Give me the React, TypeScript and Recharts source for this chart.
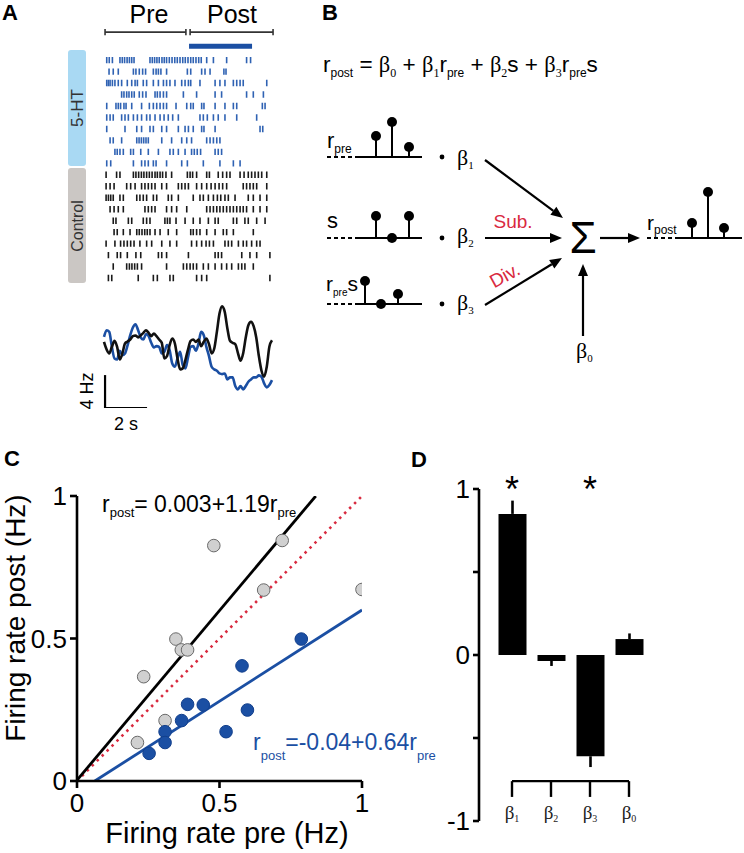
import React from 'react';
import {
  BarChart,
  Bar,
  ComposedChart,
  ScatterChart,
  Scatter,
  Line,
  XAxis,
  YAxis,
  ReferenceLine,
  ReferenceDot,
  ErrorBar,
} from 'recharts';

const FONT = '"Liberation Sans", Arial, Helvetica, sans-serif';
const SERIF = '"Liberation Serif", "Times New Roman", serif';
const BLUE = '#1b4fa3';
const RASTER_BLUE = '#2f62b3';
const RED = '#d92a3f';

// ---- panel A: spike times (s), one array per trial
const serotoninSpikes: number[][] = [
  [0.13, 0.25, 0.4, 0.76, 0.87, 0.98, 1.1, 1.21, 1.32, 1.43, 2.19, 2.3, 2.41, 2.52, 2.63, 2.76, 2.87, 2.98, 3.11, 3.24, 3.37, 3.49, 3.62, 3.75, 3.87, 4.0, 4.13, 4.25, 4.38, 4.51, 4.63, 4.89, 5.21, 5.84, 6.79, 6.98],
  [0.24, 0.44, 0.68, 1.4, 1.52, 1.68, 1.84, 1.98, 2.35, 2.48, 2.59, 2.71, 2.98, 3.97, 4.13, 4.65, 4.81, 5.05, 5.71, 5.81],
  [0.13, 0.21, 0.29, 0.4, 0.52, 0.68, 0.84, 1.11, 1.32, 1.48, 1.59, 1.87, 2.03, 2.35, 2.59, 2.83, 2.98, 3.14, 3.38, 3.7, 3.86, 4.02, 4.13, 4.57, 5.29, 5.52, 5.76, 6.16, 6.32, 6.48, 6.63, 7.75],
  [0.84, 0.95, 1.08, 1.19, 1.32, 1.44, 1.68, 1.84, 2.0, 2.43, 2.54, 2.67, 2.83, 2.98, 3.78, 4.41, 5.29, 5.6, 6.79, 7.11, 7.59],
  [0.13, 0.57, 0.68, 0.79, 0.95, 1.05, 1.32, 1.79, 2.16, 2.35, 2.51, 2.67, 2.83, 2.98, 3.43, 3.94, 4.13, 4.25, 4.65, 4.76, 5.29, 5.76, 6.16, 6.32, 7.54, 7.67],
  [0.13, 0.29, 0.44, 0.84, 1.0, 1.16, 1.4, 1.59, 1.79, 2.03, 2.19, 2.43, 2.67, 2.86, 3.06, 3.27, 3.54, 4.57, 4.73, 4.92, 5.21, 5.44, 5.76, 6.32, 7.27],
  [0.13, 1.0, 1.56, 1.79, 2.19, 2.35, 2.75, 2.98, 3.54, 3.86, 4.02, 4.25, 4.65, 4.76, 5.29, 7.43, 7.56],
  [0.29, 0.44, 0.84, 1.56, 1.67, 1.78, 1.89, 2.0, 2.11, 2.75, 3.22, 3.7, 3.94, 4.17, 4.89, 5.05, 5.21, 5.37, 5.52],
  [0.52, 0.63, 0.76, 0.92, 1.27, 1.4, 1.75, 2.11, 2.59, 3.14, 3.3, 3.54, 3.86, 4.17, 4.3, 4.44, 4.6, 5.29, 5.44, 5.6],
  [0.13, 0.32, 1.4, 1.79, 1.95, 2.11, 2.35, 2.48, 2.98, 3.7, 3.97, 4.73, 5.52, 6.16, 6.48],
];

const controlSpikes: number[][] = [
  [0.1, 0.6, 0.76, 1.4, 1.52, 1.65, 1.78, 1.9, 2.03, 2.16, 2.29, 2.43, 2.54, 2.67, 2.79, 2.95, 3.22, 3.97, 4.1, 4.22, 4.41, 4.89, 5.02, 5.44, 5.65, 5.84, 6.0, 6.48, 6.67, 6.87, 7.03, 7.19, 7.35, 7.51, 7.75],
  [0.1, 0.29, 0.48, 1.08, 1.27, 1.48, 1.79, 1.95, 2.11, 2.27, 2.43, 2.75, 2.98, 3.54, 3.7, 3.86, 4.02, 4.41, 4.65, 4.89, 5.1, 5.29, 5.48, 5.65, 5.84, 6.63, 6.79, 6.95, 7.11, 7.27, 7.75],
  [0.1, 0.21, 0.32, 0.44, 0.76, 0.92, 1.56, 1.71, 1.87, 2.03, 2.35, 2.51, 3.06, 3.22, 3.54, 4.25, 4.57, 4.73, 4.97, 5.21, 5.4, 5.56, 5.76, 5.92, 6.24, 6.87, 7.11, 7.43, 7.75],
  [0.29, 0.48, 0.68, 0.92, 1.95, 2.11, 2.27, 2.43, 2.98, 3.22, 3.46, 3.94, 4.89, 5.05, 5.21, 5.37, 5.52, 5.68, 5.84, 6.0, 6.16, 6.32, 6.48, 6.63, 6.79, 7.11, 7.43, 7.75],
  [0.44, 0.57, 1.16, 1.32, 1.87, 2.03, 2.19, 2.9, 3.02, 3.14, 3.43, 3.86, 4.25, 4.57, 4.97, 5.29, 5.44, 6.16, 6.32, 6.71, 6.87, 7.27, 7.67],
  [0.48, 0.63, 0.92, 1.24, 1.56, 1.68, 1.81, 1.94, 2.06, 2.19, 2.43, 2.67, 3.06, 3.46, 4.13, 4.25, 4.41, 4.57, 4.89, 5.29, 5.68, 5.84, 6.16, 7.11],
  [0.1, 0.52, 0.79, 0.95, 1.11, 1.27, 1.43, 1.71, 2.03, 2.27, 2.75, 3.14, 3.46, 4.17, 4.41, 4.65, 4.86, 5.02, 5.21, 5.76, 5.92, 6.08, 6.4, 6.63, 6.79, 7.03, 7.27, 7.43],
  [0.21, 0.63, 0.79, 1.11, 1.52, 1.75, 2.59, 2.75, 2.98, 4.02, 5.29, 5.44, 5.6, 6.56, 6.95, 7.27, 7.9],
  [0.44, 1.08, 1.21, 1.33, 1.46, 1.59, 1.79, 2.98, 3.78, 3.94, 4.1, 4.25, 4.41, 4.73, 4.97, 5.29, 5.6, 5.84, 6.08, 6.4, 6.56, 6.71, 7.11],
  [0.21, 0.37, 1.63, 2.35, 2.54, 3.14, 3.3, 4.41, 4.65, 4.89, 7.9],
];

// smoothed firing rate (Hz) sampled every 0.125 s
const traceTime = [0, 0.125, 0.25, 0.375, 0.5, 0.625, 0.75, 0.875, 1, 1.125, 1.25, 1.375, 1.5, 1.625, 1.75, 1.875, 2, 2.125, 2.25, 2.375, 2.5, 2.625, 2.75, 2.875, 3, 3.125, 3.25, 3.375, 3.5, 3.625, 3.75, 3.875, 4, 4.125, 4.25, 4.375, 4.5, 4.625, 4.75, 4.875, 5, 5.125, 5.25, 5.375, 5.5, 5.625, 5.75, 5.875, 6, 6.125, 6.25, 6.375, 6.5, 6.625, 6.75, 6.875, 7, 7.125, 7.25, 7.375, 7.5, 7.625, 7.75, 7.875, 8];
const serotoninRate = [8.65, 9.45, 9.25, 7.43, 6.02, 5.9, 6.95, 6.42, 6.63, 7.64, 8.85, 9.78, 10.18, 9.45, 8.57, 8.32, 8.97, 8.73, 7.92, 7.35, 7.52, 7.43, 6.63, 6.83, 7.64, 7.03, 5.41, 5.01, 6.02, 6.83, 5.21, 4.81, 6.14, 7.43, 7.52, 6.95, 7.84, 9.25, 8.85, 7.43, 6.3, 5.01, 4.69, 4.53, 4.2, 4.12, 4.2, 3.47, 3.72, 3.72, 2.67, 2.26, 2.67, 2.26, 2.67, 3.19, 3.47, 3.72, 3.72, 3.96, 3.8, 2.99, 2.51, 2.79, 3.39];
const controlRate = [8.04, 7.11, 6.63, 7.43, 8.16, 7.43, 5.9, 6.63, 7.84, 8.08, 8.32, 8.73, 8.81, 8.57, 8.85, 9.13, 9.45, 9.13, 8.73, 9.05, 8.73, 8.32, 7.92, 6.02, 6.3, 7.64, 8.44, 7.84, 6.02, 4.69, 4.81, 5.82, 7.11, 8.16, 8.32, 8.04, 8.32, 7.52, 8.04, 8.44, 7.76, 6.63, 7.23, 9.25, 11.47, 12.36, 11.68, 9.66, 8.16, 7.92, 7.76, 6.71, 5.74, 6.63, 8.57, 10.06, 10.46, 9.94, 8.57, 6.3, 4.53, 3.8, 5.01, 7.43, 8.24];

// ---- panel B: schematic signals (diagram px), stems x / heights
const preStemX = [376, 392, 409];
const preStemH = [21, 35, 10];
const sStemX = [376, 392, 409];
const sStemH = [22, 0, 22];
const preSStemX = [365, 381, 398];
const preSStemH = [23, 0, 10];
const postStemX = [692, 708, 724];
const postStemH = [15, 46, 10];

// ---- panel C: firing rates pre vs post (Hz)
const controlPre = [0.48, 0.72, 0.655, 1.0, 0.347, 0.366, 0.388, 0.234, 0.309, 0.212];
const controlPost = [0.826, 0.844, 0.67, 0.672, 0.498, 0.46, 0.46, 0.366, 0.212, 0.135];
const serotoninPre = [0.787, 0.579, 0.388, 0.443, 0.598, 0.367, 0.309, 0.523, 0.309, 0.253];
const serotoninPost = [0.498, 0.404, 0.269, 0.267, 0.249, 0.212, 0.173, 0.173, 0.135, 0.097];
const controlFit = { b0: 0.003, b1: 1.19 };
const serotoninFit = { b0: -0.04, b1: 0.64 };

// ---- panel D: regression coefficients
const coefNames = ['β1', 'β2', 'β3', 'β0'];
const coefValues = [0.85, -0.036, -0.61, 0.096];
const coefErrLow = [0, 0.03, 0.065, 0];
const coefErrHigh = [0.08, 0, 0, 0.034];
const coefSignificant = [true, false, true, false];

const rasterSero = serotoninSpikes.flatMap((row, i) => row.map((t) => ({ t, row: i + 1 })));
const rasterCtrl = controlSpikes.flatMap((row, i) => row.map((t) => ({ t, row: i + 11 })));
const traceData = traceTime.map((t, i) => ({ t, sero: serotoninRate[i], ctrl: controlRate[i] }));

const ctrlPoints = controlPre.map((x, i) => ({ x, y: controlPost[i] }));
const seroPoints = serotoninPre.map((x, i) => ({ x, y: serotoninPost[i] }));
const ctrlLine = [
  { x: 0, y: controlFit.b0 },
  { x: (1 - controlFit.b0) / controlFit.b1, y: 1 },
];
const seroLine = [
  { x: -serotoninFit.b0 / serotoninFit.b1, y: 0 },
  { x: 1, y: serotoninFit.b0 + serotoninFit.b1 },
];
const unityLine = [
  { x: 0, y: 0 },
  { x: 1, y: 1 },
];
const coefData = coefNames.map((name, i) => ({
  name,
  value: coefValues[i],
  err: [coefErrLow[i], coefErrHigh[i]],
}));

const stemRows = [
  { base: 157, xs: preStemX, hs: preStemH, x0: 327 },
  { base: 238, xs: sStemX, hs: sStemH, x0: 327 },
  { base: 304, xs: preSStemX, hs: preSStemH, x0: 327 },
  { base: 238, xs: postStemX, hs: postStemH, x0: 647 },
];
const stemDots = stemRows.flatMap((r) => r.xs.map((x, i) => ({ x, y: r.base - r.hs[i] })));
const multDots = [157, 238, 304].map((y) => ({ x: 442, y }));
const arrows = [
  { from: [485, 160], to: [563, 218] },
  { from: [485, 238], to: [562, 238] },
  { from: [485, 305], to: [562, 258] },
  { from: [600, 238], to: [640, 238] },
  { from: [583, 336], to: [583, 264] },
];

const spike = (color: string) => (p: any) => (
  <line x1={p.cx} x2={p.cx} y1={p.cy - 3.2} y2={p.cy + 3.2} stroke={color} strokeWidth={1.6} />
);
const dot = (r: number) => (p: any) => <circle cx={p.cx} cy={p.cy} r={r} fill="#000" />;

const Arrow = (p: any) => {
  const { x1, y1, x2, y2 } = p;
  const a = Math.atan2(y2 - y1, x2 - x1);
  const L = 12;
  const W = 5;
  const bx = x2 - L * Math.cos(a);
  const by = y2 - L * Math.sin(a);
  const nx = -Math.sin(a) * W;
  const ny = Math.cos(a) * W;
  return (
    <g>
      <line x1={x1} y1={y1} x2={bx} y2={by} stroke="#000" strokeWidth={2.2} />
      <polygon points={`${x2},${y2} ${bx + nx},${by + ny} ${bx - nx},${by - ny}`} fill="#000" />
    </g>
  );
};

type Part = [string, boolean, string?];
function Rich({ x, y, size, sub, dy, parts, fill = '#000', anchor = 'start' }: any) {
  let cur = 0;
  return (
    <text x={x} y={y} fontSize={size} fill={fill} textAnchor={anchor} style={{ whiteSpace: 'pre' }}>
      {(parts as Part[]).map(([t, isSub, fam], i) => {
        const target = isSub ? dy : 0;
        const d = target - cur;
        cur = target;
        return (
          <tspan key={i} dy={d || undefined} fontSize={isSub ? sub : size} fontFamily={fam}>
            {t}
          </tspan>
        );
      })}
    </text>
  );
}

const abs = (left: number, top: number): React.CSSProperties => ({ position: 'absolute', left, top });

export default function App() {
  return (
    <div style={{ position: 'absolute', left: 0, top: 0, width: 744, height: 853, background: '#fff', fontFamily: FONT }}>
      {/* A: condition tags */}
      <div style={{ ...abs(68, 50), width: 18, height: 116, borderRadius: 3, background: '#a9d9f3' }} />
      <div style={{ ...abs(68, 168), width: 18, height: 115, borderRadius: 3, background: '#cbc7c4' }} />

      {/* A: raster */}
      <div style={abs(100, 20)}>
        <ScatterChart width={176} height={269.5} margin={{ top: 0, right: 4, bottom: 0, left: 4 }}>
          <XAxis type="number" dataKey="t" domain={[0, 8]} allowDataOverflow hide />
          <YAxis type="number" dataKey="row" domain={[-2.5, 21]} reversed allowDataOverflow hide />
          <ReferenceLine segment={[{ x: 0.05, y: -1.44 }, { x: 3.9, y: -1.44 }]} stroke="#333" strokeWidth={1.6} ifOverflow="visible" />
          <ReferenceLine segment={[{ x: 0.05, y: -1.72 }, { x: 0.05, y: -1.16 }]} stroke="#333" strokeWidth={1.6} ifOverflow="visible" />
          <ReferenceLine segment={[{ x: 3.9, y: -1.72 }, { x: 3.9, y: -1.16 }]} stroke="#333" strokeWidth={1.6} ifOverflow="visible" />
          <ReferenceLine segment={[{ x: 4.1, y: -1.44 }, { x: 8.05, y: -1.44 }]} stroke="#333" strokeWidth={1.6} ifOverflow="visible" />
          <ReferenceLine segment={[{ x: 4.1, y: -1.72 }, { x: 4.1, y: -1.16 }]} stroke="#333" strokeWidth={1.6} ifOverflow="visible" />
          <ReferenceLine segment={[{ x: 8.05, y: -1.72 }, { x: 8.05, y: -1.16 }]} stroke="#333" strokeWidth={1.6} ifOverflow="visible" />
          <ReferenceLine segment={[{ x: 4.05, y: -0.22 }, { x: 7.05, y: -0.22 }]} stroke={BLUE} strokeWidth={5} ifOverflow="visible" />
          <Scatter data={rasterSero} shape={spike(RASTER_BLUE)} isAnimationActive={false} />
          <Scatter data={rasterCtrl} shape={spike('#1a1a1a')} isAnimationActive={false} />
        </ScatterChart>
      </div>

      {/* A: rate traces */}
      <div style={abs(100, 301)}>
        <ComposedChart width={176} height={107} data={traceData} margin={{ top: 0, right: 4, bottom: 0, left: 4 }}>
          <XAxis type="number" dataKey="t" domain={[0, 8]} hide />
          <YAxis type="number" domain={[0, 13]} allowDataOverflow hide />
          <Line dataKey="sero" type="monotone" stroke={BLUE} strokeWidth={2.6} dot={false} isAnimationActive={false} />
          <Line dataKey="ctrl" type="monotone" stroke="#111" strokeWidth={2.6} dot={false} isAnimationActive={false} />
          <ReferenceLine segment={[{ x: 0.05, y: 0 }, { x: 0.05, y: 4 }]} stroke="#000" strokeWidth={2.2} ifOverflow="visible" />
          <ReferenceLine segment={[{ x: 0.05, y: 0 }, { x: 2.05, y: 0 }]} stroke="#000" strokeWidth={2.2} ifOverflow="visible" />
        </ComposedChart>
      </div>

      {/* B: schematic */}
      <div style={abs(290, 100)}>
        <ScatterChart width={454} height={280} margin={{ top: 0, right: 0, bottom: 0, left: 0 }}>
          <XAxis type="number" dataKey="x" domain={[290, 744]} allowDataOverflow hide />
          <YAxis type="number" dataKey="y" domain={[100, 380]} reversed allowDataOverflow hide />
          {stemRows.map((r, i) => (
            <ReferenceLine key={`d${i}`} segment={[{ x: r.x0, y: r.base }, { x: r.x0 + 28, y: r.base }]} stroke="#000" strokeWidth={2} strokeDasharray="4 3" ifOverflow="visible" />
          ))}
          {stemRows.map((r, i) => (
            <ReferenceLine key={`s${i}`} segment={[{ x: r.x0 + 28, y: r.base }, { x: r.x0 + 95, y: r.base }]} stroke="#000" strokeWidth={2} ifOverflow="visible" />
          ))}
          {stemRows.flatMap((r, i) =>
            r.xs.map((x, j) => (
              <ReferenceLine key={`t${i}-${j}`} segment={[{ x, y: r.base }, { x, y: r.base - r.hs[j] }]} stroke="#000" strokeWidth={2} ifOverflow="visible" />
            )),
          )}
          {arrows.map((a, i) => (
            <ReferenceLine key={`a${i}`} segment={[{ x: a.from[0], y: a.from[1] }, { x: a.to[0], y: a.to[1] }]} shape={Arrow} ifOverflow="visible" />
          ))}
          <Scatter data={stemDots} shape={dot(5)} isAnimationActive={false} />
          <Scatter data={multDots} shape={dot(2.4)} isAnimationActive={false} />
        </ScatterChart>
      </div>

      {/* C: scatter */}
      <div style={abs(0, 470)}>
        <ComposedChart width={380} height={383} margin={{ top: 26, right: 18, bottom: 32, left: 37 }}>
          <XAxis
            type="number"
            dataKey="x"
            domain={[0, 1]}
            ticks={[0, 0.5, 1]}
            allowDataOverflow
            height={40}
            tickSize={7}
            tickMargin={6}
            axisLine={{ stroke: '#000', strokeWidth: 2.6 }}
            tickLine={{ stroke: '#000', strokeWidth: 2.6 }}
            tick={{ fill: '#000', fontSize: 26, fontFamily: FONT }}
          />
          <YAxis
            type="number"
            dataKey="y"
            domain={[0, 1]}
            ticks={[0, 0.5, 1]}
            allowDataOverflow
            width={40}
            tickSize={7}
            tickMargin={3}
            axisLine={{ stroke: '#000', strokeWidth: 2.6 }}
            tickLine={{ stroke: '#000', strokeWidth: 2.6 }}
            tick={{ fill: '#000', fontSize: 26, fontFamily: FONT }}
          />
          <Line data={unityLine} dataKey="y" stroke={RED} strokeWidth={2.6} strokeDasharray="2.5 4.5" dot={false} isAnimationActive={false} />
          <Line data={ctrlLine} dataKey="y" stroke="#000" strokeWidth={2.8} dot={false} isAnimationActive={false} />
          <Line data={seroLine} dataKey="y" stroke={BLUE} strokeWidth={2.8} dot={false} isAnimationActive={false} />
          <Scatter data={ctrlPoints} shape={(p: any) => <circle cx={p.cx} cy={p.cy} r={6.3} fill="#d0d0d0" stroke="#6a6a6a" strokeWidth={1} />} isAnimationActive={false} />
          <Scatter data={seroPoints} shape={(p: any) => <circle cx={p.cx} cy={p.cy} r={6.3} fill={BLUE} stroke="#123f8c" strokeWidth={1} />} isAnimationActive={false} />
        </ComposedChart>
      </div>

      {/* D: coefficients */}
      <div style={abs(380, 470)}>
        <BarChart width={364} height={383} data={coefData} margin={{ top: 19, right: 95.5, bottom: 2, left: 59 }}>
          <XAxis
            dataKey="name"
            height={30}
            padding={{ left: 13.5, right: 0 }}
            axisLine={false}
            tickLine={false}
            tick={(p: any) => (
              <text x={p.x} y={349} textAnchor="middle" fontFamily={SERIF} fontSize={19} fill="#222">
                {p.payload.value[0]}
                <tspan fontSize={10} dy={3}>{p.payload.value.slice(1)}</tspan>
              </text>
            )}
          />
          <YAxis
            type="number"
            domain={[-1, 1]}
            ticks={[-1, -0.5, 0, 0.5, 1]}
            width={40}
            tickSize={6}
            tickMargin={3}
            tickFormatter={(v: number) => (Math.abs(v) === 0.5 ? '' : String(v))}
            axisLine={{ stroke: '#000', strokeWidth: 2.6 }}
            tickLine={{ stroke: '#000', strokeWidth: 2.6 }}
            tick={{ fill: '#000', fontSize: 26, fontFamily: FONT }}
          />
          <Bar dataKey="value" fill="#000" barSize={28} isAnimationActive={false}>
            <ErrorBar dataKey="err" width={0} stroke="#000" strokeWidth={2.6} direction="y" />
          </Bar>
          <ReferenceLine segment={[{ x: 'β1', y: -0.76 }, { x: 'β0', y: -0.76 }]} stroke="#000" strokeWidth={2.4} ifOverflow="visible" />
          {coefNames.map((n) => (
            <ReferenceLine key={n} segment={[{ x: n, y: -0.76 }, { x: n, y: -0.855 }]} stroke="#000" strokeWidth={2.4} ifOverflow="visible" />
          ))}
          {coefNames.map((n, i) =>
            coefSignificant[i] ? (
              <ReferenceDot
                key={`sig${n}`}
                x={n}
                y={1}
                r={0}
                ifOverflow="visible"
                shape={(p: any) => (
                  <text x={p.cx} y={p.cy + 13} textAnchor="middle" fontSize={36} fontFamily={FONT} fill="#000">
                    *
                  </text>
                )}
              />
            ) : null,
          )}
        </BarChart>
      </div>

      {/* text layer */}
      <svg width={744} height={853} style={{ position: 'absolute', left: 0, top: 0, pointerEvents: 'none' }} fontFamily={FONT}>
        <text x={2} y={20} fontSize={22} fontWeight="bold">A</text>
        <text x={322} y={20} fontSize={22} fontWeight="bold">B</text>
        <text x={4} y={466} fontSize={22} fontWeight="bold">C</text>
        <text x={411} y={467} fontSize={22} fontWeight="bold">D</text>

        <text x={149} y={23} fontSize={25} textAnchor="middle">Pre</text>
        <text x={232} y={23} fontSize={25} textAnchor="middle">Post</text>
        <text x={77} y={108} fontSize={17} textAnchor="middle" dominantBaseline="central" fill="#333" transform="rotate(-90 77 108)">5-HT</text>
        <text x={77} y={226} fontSize={16} textAnchor="middle" dominantBaseline="central" fill="#333" transform="rotate(-90 77 226)">Control</text>
        <text x={93} y={391} fontSize={18} textAnchor="middle" transform="rotate(-90 93 391)">4 Hz</text>
        <text x={126} y={430} fontSize={18} textAnchor="middle">2 s</text>

        <Rich
          x={323}
          y={72}
          size={22.5}
          sub={12}
          dy={5}
          parts={[
            ['r', false], ['post', true], [' = ', false], ['β', false, SERIF], ['0', true, SERIF],
            [' + ', false], ['β', false, SERIF], ['1', true, SERIF], ['r', false], ['pre', true],
            [' + ', false], ['β', false, SERIF], ['2', true, SERIF], ['s + ', false], ['β', false, SERIF],
            ['3', true, SERIF], ['r', false], ['pre', true], ['s', false],
          ]}
        />
        <Rich x={327} y={148} size={22} sub={12} dy={5} parts={[['r', false], ['pre', true]]} />
        <Rich x={327} y={228} size={22} sub={12} dy={5} parts={[['s', false]]} />
        <Rich x={326} y={291} size={21} sub={10} dy={5} parts={[['r', false], ['pre', true], ['s', false]]} />
        <Rich x={647} y={230} size={21} sub={12} dy={4} parts={[['r', false], ['post', true]]} />
        <Rich x={457} y={165} size={22} sub={11} dy={4} parts={[['β', false, SERIF], ['1', true, SERIF]]} />
        <Rich x={457} y={243} size={22} sub={11} dy={4} parts={[['β', false, SERIF], ['2', true, SERIF]]} />
        <Rich x={457} y={310} size={22} sub={11} dy={4} parts={[['β', false, SERIF], ['3', true, SERIF]]} />
        <Rich x={576} y={358} size={22} sub={11} dy={4} parts={[['β', false, SERIF], ['0', true, SERIF]]} />
        <text x={583} y={253} fontSize={44} textAnchor="middle">Σ</text>
        <text x={513} y={228} fontSize={19} textAnchor="middle" fill={RED}>Sub.</text>
        <text x={0} y={0} fontSize={19} textAnchor="middle" fill={RED} transform="translate(508 281) rotate(-29)">Div.</text>

        <Rich x={102} y={512} size={23} sub={13} dy={5} parts={[['r', false], ['post', true], ['= 0.003+1.19r', false], ['pre', true]]} />
        <Rich x={253} y={750} size={23} sub={13} dy={10} fill={BLUE} parts={[['r', false], ['post', true], ['=-0.04+0.64r', false], ['pre', true]]} />
        <text x={227} y={843} fontSize={29} textAnchor="middle">Firing rate pre (Hz)</text>
        <text x={25} y={618} fontSize={28} textAnchor="middle" transform="rotate(-90 25 618)">Firing rate post (Hz)</text>
      </svg>
    </div>
  );
}
